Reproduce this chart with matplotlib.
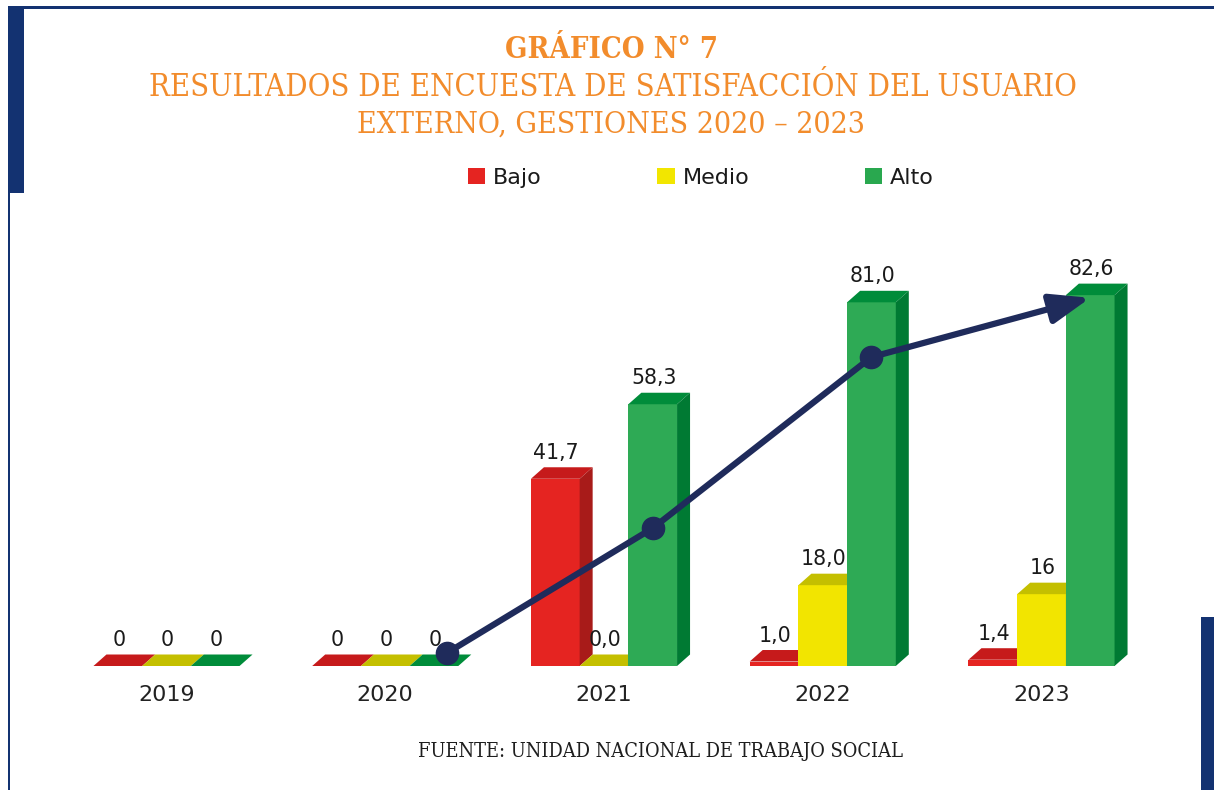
import matplotlib
matplotlib.use('Agg')
import matplotlib.pyplot as plt
from matplotlib.patches import Polygon, Rectangle, FancyArrowPatch

# ---------------- data ----------------
years = ['2019', '2020', '2021', '2022', '2023']
series_names = ['Bajo', 'Medio', 'Alto']
bajo = [0, 0, 41.7, 1.0, 1.4]
medio = [0, 0, 0.0, 18.0, 16]
alto = [0, 0, 58.3, 81.0, 82.6]
bajo_labels = ['0', '0', '41,7', '1,0', '1,4']
medio_labels = ['0', '0', '0,0', '18,0', '16']
alto_labels = ['0', '0', '58,3', '81,0', '82,6']
trend_years = ['2020', '2021', '2022', '2023']
trend_values = [2.9, 30.7, 68.8, 82.0]

title1 = 'GRÁFICO N° 7'
title2 = 'RESULTADOS DE ENCUESTA DE SATISFACCIÓN DEL USUARIO'
title3 = 'EXTERNO, GESTIONES 2020 – 2023'
source = 'FUENTE: UNIDAD NACIONAL DE TRABAJO SOCIAL'

# ---------------- style ----------------
front_cols = ['#E52421', '#F2E500', '#2EAA55']
top_cols = ['#C61A1B', '#C4BF00', '#008C3A']
side_cols = ['#A81B19', '#B3AE00', '#007A33']
legend_cols = ['#E52421', '#F2E600', '#29A84F']
navy = '#1F2B5B'
frame = '#133271'
orange = '#F28C2C'

W, H = 1214, 790
fig = plt.figure(figsize=(W / 100, H / 100), dpi=100)
fig.patch.set_facecolor('white')
ax = fig.add_axes([0, 0, 1, 1])
PX_X = 218.75   # pixels per category
PX_Y = 4.49     # pixels per value unit
X0, Y0 = 166.5, 666.0
ax.set_xlim(-X0 / PX_X, (W - X0) / PX_X)
ax.set_ylim(-(H - Y0) / PX_Y, Y0 / PX_Y)
ax.axis('off')

bar_w = 48.7 / PX_X
dx = 13.0 / PX_X
dy = 11.5 / PX_Y

all_vals = [bajo, medio, alto]
all_labels = [bajo_labels, medio_labels, alto_labels]
idx = list(range(len(years)))

bars = []
for s, (vals, labs) in enumerate(zip(all_vals, all_labels)):
    off = (s - 1) * bar_w
    xs = [i + off for i in idx]
    z = 2 + s
    b = ax.bar(xs, vals, width=bar_w, color=front_cols[s], linewidth=0,
               zorder=z, label=series_names[s])
    bars.append(b)
    for x, v, lab in zip(xs, vals, labs):
        x0, x1 = x - bar_w / 2, x + bar_w / 2
        ax.add_patch(Polygon([(x0, v), (x1, v), (x1 + dx, v + dy), (x0 + dx, v + dy)],
                             closed=True, facecolor=top_cols[s], edgecolor='none', zorder=z))
        if v > 0:
            ax.add_patch(Polygon([(x1, 0), (x1 + dx, dy), (x1 + dx, v + dy), (x1, v)],
                                 closed=True, facecolor=side_cols[s], edgecolor='none', zorder=z))
        ax.text(x + 1 / PX_X, v + dy + 8.5 / PX_Y, lab, ha='center', va='baseline',
                fontsize=14.8, color='#1a1a1a', family='DejaVu Sans', zorder=20)

for i, y in zip(idx, years):
    ax.text(i, -(701 - Y0) / PX_Y, y, ha='center', va='baseline', fontsize=16,
            color='#222222', family='DejaVu Sans')

# trend line with arrow: anchored on the "Alto" bar of each year
# (on the top face when the bar has zero height)
tx = []
for y in trend_years:
    k = years.index(y)
    x = k + bar_w
    if alto[k] == 0:
        x += dx
    tx.append(x)
ax.plot(tx[:-1], trend_values[:-1], color=navy, lw=4.5, marker='o', ms=16,
        solid_capstyle='round', zorder=10)
arr = FancyArrowPatch((tx[-2], trend_values[-2]), (tx[-1], trend_values[-1]),
                      arrowstyle='-|>,head_length=1.2,head_width=0.45', mutation_scale=20,
                      lw=4.5, color=navy, shrinkA=0, shrinkB=0, zorder=10)
ax.add_patch(arr)

# legend
leg = fig.legend(handles=[b.patches[0] for b in bars], labels=series_names,
                 loc='center left', bbox_to_anchor=(468 / W, 1 - 177.5 / H),
                 ncol=3, frameon=False, fontsize=16, handlelength=0.77,
                 handleheight=0.75, handletextpad=0.36, columnspacing=5.2,
                 borderpad=0, borderaxespad=0)
for h, c in zip(leg.legend_handles, legend_cols):
    h.set_facecolor(c)
for t in leg.get_texts():
    t.set_color('#1a1a1a')

# frame decorations
def rect(x, y, w, h, c):
    fig.add_artist(Rectangle((x / W, 1 - (y + h) / H), w / W, h / H,
                             transform=fig.transFigure, facecolor=c, edgecolor='none'))

rect(8, 6.5, W - 8, 2.5, frame)
rect(8, 6.5, 16, 186.5, frame)
rect(8, 190, 2.3, H - 190, frame)
rect(1201, 617, 13, H - 617, frame)

# titles, fitted to measured widths
renderer = fig.canvas.get_renderer()

def fit_text(xc, yb, s, width_px, **kw):
    t = fig.text(xc / W, 1 - yb / H, s, ha='center', va='baseline', **kw)
    wpx = t.get_window_extent(renderer).width
    t.set_fontsize(t.get_fontsize() * width_px / wpx)
    return t

fit_text(611, 58, title1, 212, fontsize=20, color=orange, family='DejaVu Serif',
         fontweight='bold', fontstretch='condensed')
fit_text(613, 96, title2, 927, fontsize=20, color=orange, family='DejaVu Serif',
         fontstretch='condensed')
fit_text(611, 133, title3, 509, fontsize=20, color=orange, family='DejaVu Serif',
         fontstretch='condensed')
fit_text(660, 757, source, 484, fontsize=12, color='#1e1e1e', family='DejaVu Serif',
         fontstretch='condensed')

fig.savefig('out.png', dpi=100)
